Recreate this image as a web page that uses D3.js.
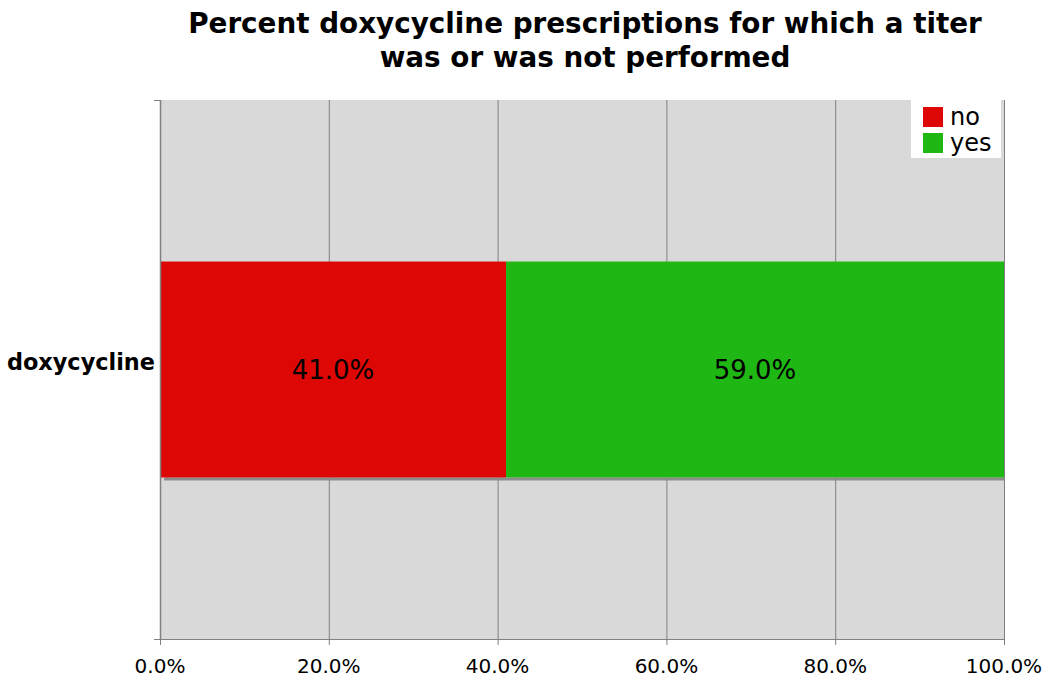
<!DOCTYPE html>
<html><head><meta charset="utf-8">
<script src="https://cdn.jsdelivr.net/npm/d3@7"></script>
<style>body{margin:0;background:#fff;} svg{display:block;}</style>
</head><body>
<svg id="chart" width="1050" height="690"></svg>
<script>
const categories = ["doxycycline"];
const seriesNames = ["no", "yes"];
const noValues = [41.0];
const yesValues = [59.0];
const seriesColors = ["#dd0806", "#1fb714"];
const xTicks = [0, 20, 40, 60, 80, 100];
const titleLines = ["Percent doxycycline prescriptions for which a titer", "was or was not performed"];

const svg = d3.select("#chart");
const font = "DejaVu Sans, Verdana, sans-serif";
const m = {left:160, right:1004, top:100, bottom:639};

const x = d3.scaleLinear().domain([0,100]).range([m.left, m.right]);
const y = d3.scaleBand().domain(categories).range([m.top, m.bottom]).paddingInner(0).paddingOuter(0.748);

// background
svg.append("rect").attr("x", m.left).attr("y", m.top).attr("width", m.right-m.left).attr("height", m.bottom-m.top).attr("fill", "#d9d9d9");

// gridlines
svg.append("g").selectAll("line").data(xTicks.slice(1)).join("line")
  .attr("x1", d=>x(d)+0.5).attr("x2", d=>x(d)+0.5).attr("y1", m.top).attr("y2", m.bottom)
  .attr("stroke", "#808080").attr("stroke-width", 1);

// stacked data
const rows = categories.map((c,i)=>({cat:c, no:noValues[i], yes:yesValues[i]}));
const stack = d3.stack().keys(seriesNames)(rows);

// shadow under bar
rows.forEach(r=>{
  svg.append("rect").attr("x", x(0)+4).attr("y", y(r.cat)+y.bandwidth()).attr("width", x(100)-x(0)-4).attr("height", 3).attr("fill", "#8c8c8c");
});

stack.forEach((s,si)=>{
  svg.append("g").selectAll("rect").data(s).join("rect")
    .attr("x", d=>x(d[0])).attr("width", d=>x(d[1])-x(d[0]))
    .attr("y", d=>y(d.data.cat)).attr("height", y.bandwidth())
    .attr("fill", seriesColors[si]);
  svg.append("g").selectAll("text").data(s).join("text")
    .attr("x", d=>(x(d[0])+x(d[1]))/2).attr("y", d=>y(d.data.cat)+y.bandwidth()/2+9.5)
    .attr("text-anchor","middle").attr("font-family", font).attr("font-size", 26).attr("fill","#000")
    .text(d=>(d[1]-d[0]).toFixed(1)+"%");
});

// axes
const axisColor = "#808080";
svg.append("line").attr("x1", m.left+0.5).attr("x2", m.left+0.5).attr("y1", m.top).attr("y2", m.bottom).attr("stroke", axisColor).attr("stroke-width", 1.5);
svg.append("line").attr("x1", m.left).attr("x2", m.right).attr("y1", m.bottom+0.5).attr("y2", m.bottom+0.5).attr("stroke", axisColor);
[m.top, m.bottom].forEach(v=>{
  svg.append("line").attr("x1", m.left-6).attr("x2", m.left).attr("y1", v+0.5).attr("y2", v+0.5).attr("stroke", axisColor);
});
svg.append("g").selectAll("line").data(xTicks).join("line")
  .attr("x1", d=>x(d)+0.5).attr("x2", d=>x(d)+0.5).attr("y1", m.bottom).attr("y2", m.bottom+6).attr("stroke", axisColor);
svg.append("g").selectAll("text").data(xTicks).join("text")
  .attr("x", d=>x(d)).attr("y", 673).attr("text-anchor","middle")
  .attr("font-family", font).attr("font-size", 20).attr("fill","#000")
  .text(d=>d.toFixed(1)+"%");

// category labels
svg.append("g").selectAll("text").data(categories).join("text")
  .attr("x", m.left-5).attr("y", d=>y(d)+y.bandwidth()/2+0.5).attr("text-anchor","end")
  .attr("font-family", font).attr("font-size", 22.4).attr("font-weight","bold").attr("fill","#000")
  .text(d=>d);

// title
svg.append("g").selectAll("text").data(titleLines).join("text")
  .attr("x", 585).attr("y", (d,i)=>33+i*34).attr("text-anchor","middle")
  .attr("font-family", font).attr("font-size", 27.8).attr("font-weight","bold").attr("fill","#000")
  .text(d=>d);

// legend
const lg = svg.append("g");
lg.append("rect").attr("x", 911).attr("y", 100).attr("width", 90).attr("height", 58).attr("fill", "#fff");
seriesNames.forEach((n,i)=>{
  lg.append("rect").attr("x", 923).attr("y", 107+i*26).attr("width", 20).attr("height", 20).attr("fill", seriesColors[i]);
  lg.append("text").attr("x", 950).attr("y", 125+i*26).attr("font-family", font).attr("font-size", 24).attr("fill","#000").text(n);
});
</script>
</body></html>
